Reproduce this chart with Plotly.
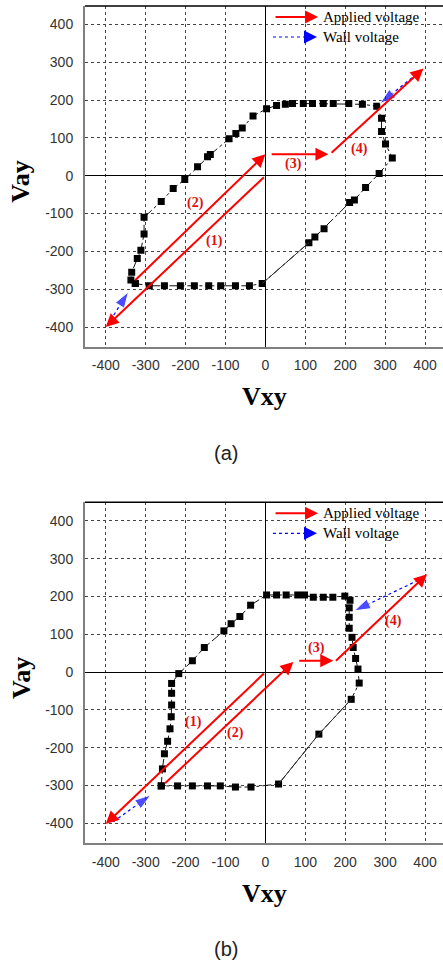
import plotly.graph_objects as go

# ---------------- data ----------------
# (a) loop of measured points (Vxy, Vay)
A_x = [-326, -337, -335, -321, -312, -304, -304, -261, -231, -202, -170, -145, -138, -91, -74, -58, -31, 3, 28, 50, 68, 95, 118, 145, 170, 209, 243, 279, 291, 291, 301, 318, 285, 251, 223, 211, 147, 124, 109, -8, -40, -75, -112, -142, -178, -213, -253, -291, -326]
A_y = [-285, -276, -255, -219, -197, -154, -110, -68, -34, -10, 24, 50, 56, 98, 112, 126, 158, 177, 186, 189, 191, 191, 191, 191, 191, 191, 189, 184, 152, 117, 84, 47, 6, -31, -64, -71, -140, -162, -177, -285, -291, -291, -291, -291, -291, -291, -291, -291, -285]
A_solid = (38, 40)   # slice of points joined by a thin solid line

# (b) loop of measured points
B_x = [-261, -258, -253, -245, -239, -236, -235, -235, -235, -217, -183, -153, -104, -86, -64, -37, 3, 28, 52, 81, 98, 120, 145, 169, 199, 212, 210, 210, 210, 217, 220, 226, 232, 235, 215, 134, 33, -36, -75, -113, -145, -183, -220, -261]
B_y = [-301, -256, -216, -183, -150, -118, -87, -56, -30, -4, 30, 65, 109, 128, 147, 177, 204, 204, 204, 204, 204, 198, 198, 198, 201, 190, 170, 145, 116, 92, 65, 36, 8, -29, -72, -164, -296, -304, -304, -301, -301, -301, -301, -301]
B_solid = (34, 37)

# applied-voltage arrows: (x_from, y_from, x_to, y_to)
A_applied = [(0, 0, -400, -400), (-330, -280, 0, 57), (12, 57, 158, 57), (162, 57, 396, 284)]
B_applied = [(0, 0, -400, -402), (-255, -298, 70, 27), (81, 30, 170, 30), (173, 26, 405, 259)]
# step labels: (text, x, y)
A_labels = [("(1)", -128, -172), ("(2)", -176, -73), ("(3)", 70, 31), ("(4)", 237, 70)]
B_labels = [("(1)", -180, -131), ("(2)", -74, -162), ("(3)", 127, 65), ("(4)", 321, 136)]
# wall-voltage arrows
A_wall = [(379, 269, 287, 191), (-396, -395, -343, -307)]
B_wall = [(383, 243, 223, 162), (-381, -396, -287, -325)]

tick_vals = [-400, -300, -200, -100, 0, 100, 200, 300, 400]
tick_text = ["-400", "-300", "-200", "-100", "0", "100", "200", "300", "400"]

RED = "#ff0000"
LABEL_RED = "#e01010"
BLUE = "#0000ff"

fig = go.Figure()
annotations = []
shapes = []

panels = [
    ("x", "y", A_x, A_y, A_solid, A_applied, A_labels, A_wall, "(a)"),
    ("x2", "y2", B_x, B_y, B_solid, B_applied, B_labels, B_wall, "(b)"),
]

for xa, ya, px, py, solid, applied, labels, wall, cap in panels:
    # dash-dot loop with square markers
    fig.add_trace(go.Scatter(x=px, y=py, xaxis=xa, yaxis=ya, mode="lines+markers",
                             line=dict(color="#111111", width=1, dash="dashdot"),
                             marker=dict(symbol="square", size=7, color="black"),
                             showlegend=False, hoverinfo="skip"))
    s0, s1 = solid
    fig.add_trace(go.Scatter(x=px[s0:s1], y=py[s0:s1], xaxis=xa, yaxis=ya, mode="lines",
                             line=dict(color="#333333", width=1),
                             showlegend=False, hoverinfo="skip"))
    # wall voltage arrows (dotted blue line + head)
    for x0, y0, x1, y1 in wall:
        fig.add_trace(go.Scatter(x=[x0, x1], y=[y0, y1], xaxis=xa, yaxis=ya, mode="lines+markers",
                                 line=dict(color=BLUE, width=1.2, dash="dot"),
                                 marker=dict(symbol="arrow", size=[0, 17], color=BLUE, angleref="previous"),
                                 showlegend=False, hoverinfo="skip"))
    # applied voltage arrows
    for x0, y0, x1, y1 in applied:
        annotations.append(dict(xref=xa, yref=ya, axref=xa, ayref=ya, x=x1, y=y1, ax=x0, ay=y0,
                                text="", showarrow=True, arrowhead=2, arrowsize=1.3, arrowwidth=2,
                                arrowcolor=RED, standoff=0))
    for t, lx, ly in labels:
        annotations.append(dict(xref=xa, yref=ya, x=lx, y=ly, text="<b>%s</b>" % t, showarrow=False,
                                font=dict(family="Liberation Serif", size=14, color=LABEL_RED)))
    xd = xa + " domain"
    yd = ya + " domain"
    # legend (manual)
    annotations.append(dict(xref=xd, yref=yd, x=0.651, y=0.9677, ax=-44, ay=0, text="",
                            showarrow=True, arrowhead=2, arrowsize=1.3, arrowwidth=2,
                            arrowcolor=RED, standoff=0))
    annotations.append(dict(xref=xd, yref=yd, x=0.659, y=0.9677, text="Applied voltage",
                            showarrow=False, xanchor="left", yanchor="middle",
                            font=dict(family="Liberation Serif", size=15, color="black")))
    shapes.append(dict(type="line", xref=xd, yref=yd, x0=0.525, x1=0.615, y0=0.909, y1=0.909,
                       line=dict(color=BLUE, width=1.2, dash="dot")))
    annotations.append(dict(xref=xd, yref=yd, x=0.648, y=0.909, ax=-14, ay=0, text="",
                            showarrow=True, arrowhead=2, arrowsize=1.3, arrowwidth=2,
                            arrowcolor=BLUE, standoff=0))
    annotations.append(dict(xref=xd, yref=yd, x=0.659, y=0.909, text="Wall voltage",
                            showarrow=False, xanchor="left", yanchor="middle",
                            font=dict(family="Liberation Serif", size=15, color="black")))
    # top border
    shapes.append(dict(type="line", xref=xd, yref=yd, x0=0, x1=1, y0=1, y1=1,
                       line=dict(color="black", width=1.5)))
    # axis titles
    annotations.append(dict(xref=xd, yref=yd, x=0.5, y=0, yshift=-50, text="<b>Vxy</b>",
                            showarrow=False, yanchor="middle",
                            font=dict(family="Liberation Serif", size=26, color="black")))
    annotations.append(dict(xref=xd, yref=ya, x=0, y=0, xshift=-64, yshift=-6, text="<b>Vay</b>",
                            showarrow=False, textangle=-90, xanchor="center", yanchor="middle",
                            font=dict(family="Liberation Serif", size=26, color="black")))
    # caption
    annotations.append(dict(xref=xd, yref=yd, x=0.394, y=0, yshift=-106, text=cap,
                            showarrow=False, yanchor="middle",
                            font=dict(family="Liberation Sans", size=20, color="#222222")))

axis_common = dict(tickvals=tick_vals, ticktext=tick_text, showgrid=True, gridcolor="#444444",
                   griddash="dot", gridwidth=1, zeroline=True, zerolinecolor="black",
                   zerolinewidth=1, showline=True, linecolor="#808080", linewidth=2,
                   ticks="", tickfont=dict(family="Liberation Sans", size=14, color="#333333"))

fig.update_layout(
    width=443, height=962,
    margin=dict(l=85, r=0, t=6, b=119),
    plot_bgcolor="white", paper_bgcolor="white",
    showlegend=False,
    xaxis=dict(domain=[0, 1], range=[-452, 445], anchor="y", ticklabelstandoff=5, **axis_common),
    yaxis=dict(domain=[0.593, 1], range=[-452, 449], anchor="x", ticklabelstandoff=7, **axis_common),
    xaxis2=dict(domain=[0, 1], range=[-452, 445], anchor="y2", ticklabelstandoff=5, **axis_common),
    yaxis2=dict(domain=[0, 0.407], range=[-452, 449], anchor="x2", ticklabelstandoff=7, **axis_common),
    annotations=annotations,
    shapes=shapes,
)

fig.write_html("out.html")
